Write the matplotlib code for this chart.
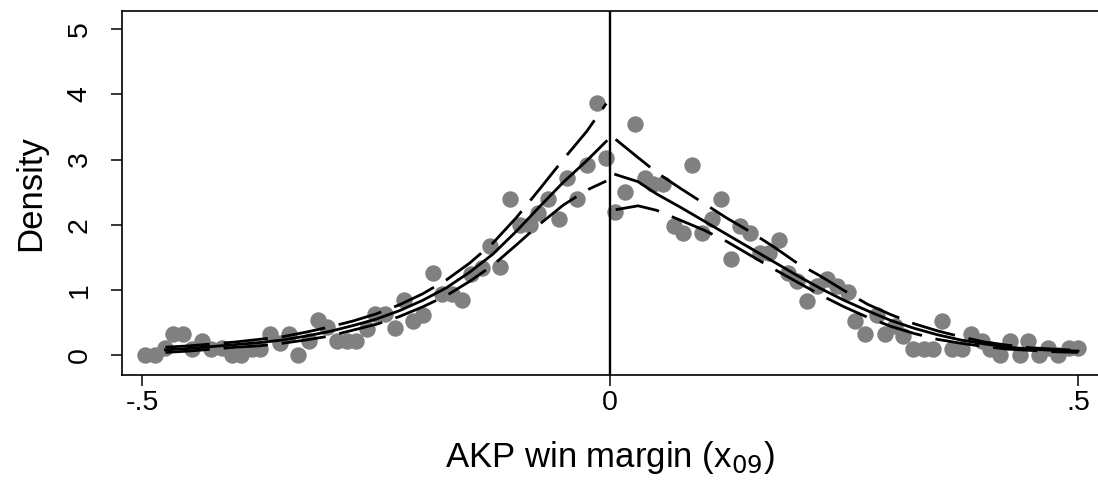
import numpy as np
import matplotlib
matplotlib.use('Agg')
import matplotlib.pyplot as plt

plt.rcParams['font.family'] = ['Liberation Sans', 'DejaVu Sans']

# binned density, left of the cutoff
left_x = [-0.497, -0.486, -0.475, -0.467, -0.456, -0.447, -0.436, -0.426, -0.415, -0.404,
          -0.394, -0.383, -0.374, -0.363, -0.353, -0.343, -0.333, -0.322, -0.312, -0.302,
          -0.292, -0.281, -0.271, -0.260, -0.251, -0.240, -0.230, -0.220, -0.210, -0.200,
          -0.189, -0.180, -0.169, -0.158, -0.148, -0.137, -0.128, -0.118, -0.107, -0.096,
          -0.085, -0.077, -0.066, -0.055, -0.046, -0.035, -0.025, -0.014, -0.004]
left_y = [0.00, 0.00, 0.11, 0.32, 0.32, 0.09, 0.21, 0.09, 0.11, 0.00,
          0.00, 0.09, 0.09, 0.32, 0.19, 0.32, 0.00, 0.21, 0.53, 0.43,
          0.21, 0.21, 0.21, 0.40, 0.63, 0.63, 0.42, 0.84, 0.52, 0.62,
          1.26, 0.93, 0.93, 0.84, 1.24, 1.34, 1.67, 1.35, 2.40, 1.99,
          1.99, 2.18, 2.40, 2.08, 2.72, 2.40, 2.92, 3.87, 3.03]

# binned density, right of the cutoff
right_x = [0.005, 0.016, 0.027, 0.037, 0.046, 0.057, 0.068, 0.078, 0.088, 0.098,
           0.109, 0.119, 0.129, 0.139, 0.150, 0.160, 0.170, 0.181, 0.190, 0.200,
           0.211, 0.221, 0.232, 0.243, 0.254, 0.262, 0.272, 0.285, 0.294, 0.305,
           0.313, 0.324, 0.335, 0.345, 0.355, 0.365, 0.376, 0.386, 0.397, 0.406,
           0.417, 0.427, 0.438, 0.447, 0.458, 0.468, 0.479, 0.490, 0.500]
right_y = [2.19, 2.50, 3.55, 2.72, 2.62, 2.62, 1.98, 1.88, 2.92, 1.88,
           2.08, 2.40, 1.47, 1.98, 1.88, 1.57, 1.57, 1.77, 1.26, 1.13,
           0.83, 1.06, 1.16, 1.06, 0.96, 0.52, 0.32, 0.62, 0.32, 0.44,
           0.29, 0.09, 0.09, 0.09, 0.52, 0.09, 0.09, 0.32, 0.21, 0.09,
           0.00, 0.21, 0.00, 0.21, 0.00, 0.11, 0.00, 0.11, 0.11]

# fitted density and confidence band, left side
fit_lx = [-0.475, -0.45, -0.425, -0.40, -0.375, -0.35, -0.325, -0.30, -0.275, -0.25,
          -0.225, -0.20, -0.175, -0.15, -0.125, -0.10, -0.075, -0.05, -0.025, -0.004]
fit_l = [0.08, 0.10, 0.13, 0.16, 0.19, 0.23, 0.29, 0.36, 0.45, 0.55,
         0.68, 0.84, 1.03, 1.27, 1.55, 1.90, 2.28, 2.65, 2.98, 3.28]
hi_l = [0.12, 0.14, 0.17, 0.20, 0.24, 0.28, 0.35, 0.43, 0.52, 0.63,
        0.77, 0.94, 1.15, 1.41, 1.72, 2.11, 2.55, 3.00, 3.43, 3.86]
lo_l = [0.04, 0.06, 0.09, 0.12, 0.14, 0.18, 0.23, 0.29, 0.38, 0.47,
        0.59, 0.74, 0.91, 1.13, 1.38, 1.69, 2.01, 2.30, 2.53, 2.67]

# fitted density and confidence band, right side
fit_rx = [0.006, 0.03, 0.05, 0.075, 0.10, 0.125, 0.15, 0.175, 0.20, 0.225, 0.25,
          0.275, 0.30, 0.325, 0.35, 0.375, 0.40, 0.425, 0.45, 0.475, 0.50]
fit_r = [2.77, 2.66, 2.47, 2.27, 2.06, 1.85, 1.64, 1.43, 1.22, 1.02, 0.84,
         0.68, 0.53, 0.41, 0.31, 0.23, 0.17, 0.12, 0.09, 0.07, 0.06]
hi_r = [3.31, 3.03, 2.80, 2.56, 2.33, 2.10, 1.89, 1.66, 1.41, 1.21, 0.99,
        0.78, 0.62, 0.48, 0.37, 0.28, 0.20, 0.15, 0.11, 0.09, 0.07]
lo_r = [2.23, 2.29, 2.22, 2.07, 1.92, 1.74, 1.53, 1.32, 1.12, 0.92, 0.74,
        0.58, 0.44, 0.33, 0.24, 0.18, 0.13, 0.09, 0.07, 0.05, 0.04]

fig = plt.figure(figsize=(10.98, 4.93), dpi=100)
ax = fig.add_axes([122 / 1098, 118 / 493, 976 / 1098, 364 / 493])

gray = '#808080'
ax.scatter(left_x, left_y, s=140, color=gray, linewidths=0, zorder=2)
ax.scatter(right_x, right_y, s=140, color=gray, linewidths=0, zorder=2)

dash = (0, (16, 5))
for xs, mid, hi, lo in [(fit_lx, fit_l, hi_l, lo_l), (fit_rx, fit_r, hi_r, lo_r)]:
    ax.plot(xs, mid, color='black', lw=2.0, zorder=3)
    ax.plot(xs, hi, color='black', lw=2.0, linestyle=dash, zorder=3)
    ax.plot(xs, lo, color='black', lw=2.0, linestyle=dash, zorder=3)

ax.axvline(0, color='black', lw=1.7, zorder=4)

ax.set_xlim(-0.5214, 0.5214)
ax.set_ylim(-0.307, 5.28)
ax.set_xticks([-0.5, 0, 0.5])
ax.set_xticklabels(['-.5', '0', '.5'])
ax.set_yticks([0, 1, 2, 3, 4, 5])
ax.set_yticklabels(['0', '1', '2', '3', '4', '5'], rotation=90, va='center')
ax.tick_params(axis='both', direction='out', length=8, width=1.1, labelsize=20.5)
ax.tick_params(axis='x', pad=3)
ax.tick_params(axis='y', pad=13)
ax.spines['right'].set_visible(False)
for s in ['left', 'top', 'bottom']:
    ax.spines[s].set_linewidth(1.2)

ax.set_xlabel('AKP win margin (x$_{09}$)', fontsize=25, labelpad=16)
ax.set_ylabel('Density', fontsize=25, labelpad=14)

fig.savefig('out.png', dpi=100)
